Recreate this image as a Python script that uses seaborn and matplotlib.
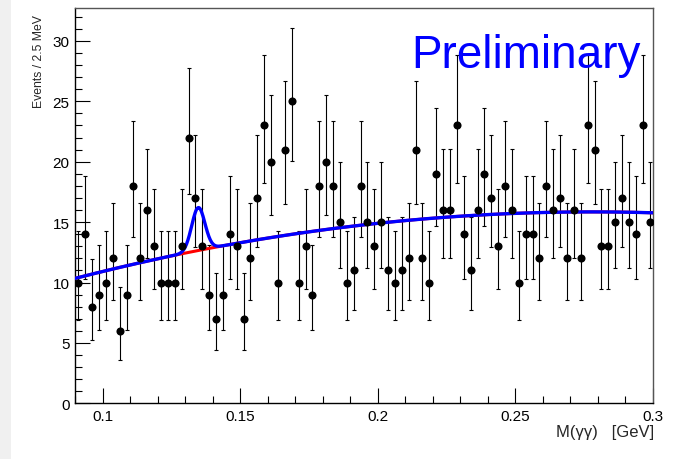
import numpy as np
import pandas as pd
import matplotlib
matplotlib.use("Agg")
import matplotlib.pyplot as plt
import seaborn as sns
from matplotlib.ticker import MultipleLocator, FixedLocator, FixedFormatter
from matplotlib.patches import Rectangle

# ---- data (2.5 MeV bins from 0.09 to 0.30 GeV) ----
bin_lo = 0.09
bin_width = 0.0025
counts = [10, 14, 8, 9, 10, 12, 6, 9, 18, 12,
          16, 13, 10, 10, 10, 13, 22, 17, 13, 9,
          7, 9, 14, 13, 7, 12, 17, 23, 20, 10,
          21, 25, 10, 13, 9, 18, 20, 18, 15, 10,
          11, 18, 15, 13, 15, 11, 10, 11, 12, 21,
          12, 10, 19, 16, 16, 23, 14, 11, 16, 19,
          17, 13, 18, 16, 10, 14, 14, 12, 18, 16,
          17, 12, 16, 12, 23, 21, 13, 13, 15, 17,
          15, 14, 23, 15]

# fit model parameters (background: quadratic around x0; signal: gaussian)
bkg_x0 = 0.2
bkg_c0 = 14.9
bkg_c1 = 24.3
bkg_c2 = -156.0
sig_amp = 3.55
sig_mean = 0.1348
sig_sigma = 0.0024

xticks = [0.1, 0.15, 0.2, 0.25, 0.3]
xtick_labels = ["0.1", "0.15", "0.2", "0.25", "0.3"]
yticks = [0, 5, 10, 15, 20, 25, 30]
ytick_labels = ["0", "5", "10", "15", "20", "25", "30"]

# ---- derived ----
n = np.array(counts, dtype=float)
centers = bin_lo + bin_width * (np.arange(len(counts)) + 0.5)
# Poisson (Gehrels approximation) asymmetric errors
upper = n + np.sqrt(n + 0.75) + 1.0
lower = n * (1.0 - 1.0 / (9.0 * n) - 1.0 / (3.0 * np.sqrt(n))) ** 3
err_lo = n - lower
err_hi = upper - n
df = pd.DataFrame({"x": centers, "y": n})

xs = np.linspace(0.09, 0.3, 800)
bkg = bkg_c0 + bkg_c1 * (xs - bkg_x0) + bkg_c2 * (xs - bkg_x0) ** 2
tot = bkg + sig_amp * np.exp(-0.5 * ((xs - sig_mean) / sig_sigma) ** 2)
curves = pd.DataFrame({"x": xs, "bkg": bkg, "tot": tot})

# ---- plot ----
sns.set_theme(style="ticks")
plt.rcParams["font.family"] = ["Liberation Sans", "DejaVu Sans"]

fig = plt.figure(figsize=(6.83, 4.60), dpi=100)
fig.patch.set_facecolor("white")
fig.patches.append(Rectangle((0, 0), 11 / 683, 1, transform=fig.transFigure,
                             facecolor="#f0f0f0", edgecolor="none", zorder=-10))
ax = fig.add_axes([75 / 683, 1 - 404.3 / 460, 578 / 683, 395 / 460])

ax.errorbar(centers, n, yerr=[err_lo, err_hi], fmt="none", ecolor="black",
            elinewidth=0.8, capsize=1.6, capthick=0.8, zorder=2)
sns.lineplot(data=curves, x="x", y="bkg", ax=ax, color="#ff0000", lw=2.2,
             zorder=3, legend=False)
sns.lineplot(data=curves, x="x", y="tot", ax=ax, color="#0000ff", lw=2.4,
             zorder=4, legend=False)
sns.scatterplot(data=df, x="x", y="y", ax=ax, color="black", s=34,
                edgecolor="black", linewidth=0, zorder=5, legend=False)

ax.set_xlim(0.09, 0.3)
ax.set_ylim(0, 32.7)

ax.xaxis.set_major_locator(FixedLocator(xticks))
ax.xaxis.set_major_formatter(FixedFormatter(xtick_labels))
ax.xaxis.set_minor_locator(MultipleLocator(0.01))
ax.yaxis.set_major_locator(FixedLocator(yticks))
ax.yaxis.set_major_formatter(FixedFormatter(ytick_labels))
ax.yaxis.set_minor_locator(MultipleLocator(1))

ax.tick_params(axis="both", which="both", direction="in", colors="black",
               top=False, right=False, labelsize=11, width=0.8)
ax.tick_params(axis="both", which="major", length=11, pad=4)
ax.tick_params(axis="both", which="minor", length=5)

for s in ["left", "bottom"]:
    ax.spines[s].set_color("black")
    ax.spines[s].set_linewidth(1.0)
for s in ["top", "right"]:
    ax.spines[s].set_color("#555555")
    ax.spines[s].set_linewidth(1.0)

ax.set_xlabel("M(γγ)   [GeV]", fontsize=12, ha="right")
ax.xaxis.set_label_coords((654 - 75) / 578, -(436.7 - 404.3) / 395)
ax.xaxis.label.set_va("baseline")
ax.set_ylabel("Events / 2.5 MeV", fontsize=8.8, ha="right")
ax.yaxis.set_label_coords(-(75 - 45) / 578, (404.3 - 15) / 395)

ax.text((411.7 - 75) / 578, (404.3 - 68.3) / 395, "Preliminary",
        transform=ax.transAxes, color="#0000ff", fontsize=33,
        ha="left", va="baseline", zorder=6)

fig.savefig("out.png", dpi=100)
